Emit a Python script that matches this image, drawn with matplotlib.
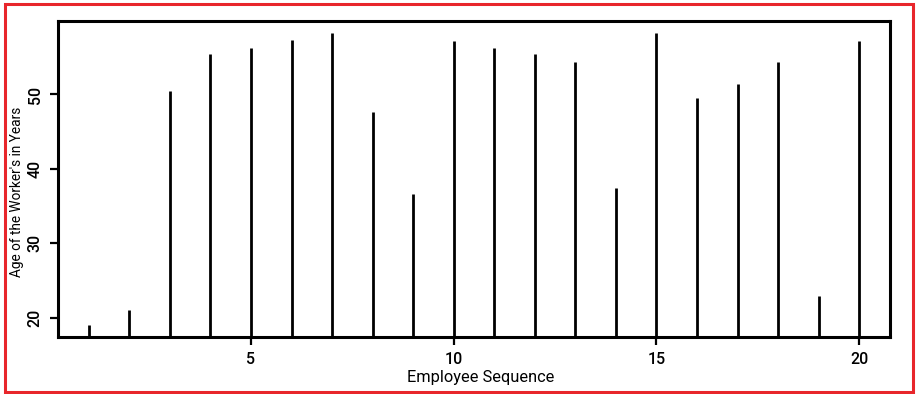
import matplotlib
matplotlib.use("Agg")
import matplotlib.pyplot as plt
from matplotlib.patches import Rectangle

plt.rcParams["font.family"] = ["Roboto", "Liberation Sans", "DejaVu Sans"]
plt.rcParams["font.weight"] = "medium"

# employee index and age in years
employee = list(range(1, 21))
age = [19.0, 21.0, 50.5, 55.4, 56.3, 57.3, 58.3, 47.6, 36.6, 57.2,
       56.3, 55.4, 54.3, 37.5, 58.3, 49.5, 51.4, 54.3, 23.0, 57.2]
x_ticks = [5, 10, 15, 20]
y_ticks = [20, 30, 40, 50]

fig = plt.figure(figsize=(9.16, 3.94), dpi=100)
ax = fig.add_axes([58 / 916, 1 - 337 / 394, 832 / 916, 316 / 394])

# R-style "type = h" spikes from the bottom of the plot region
ymin = min(age) - 0.04 * (max(age) - min(age))
ymax = max(age) + 0.04 * (max(age) - min(age))
ax.vlines(employee, ymin, age, color="black", linewidth=2.0)

ax.set_xlim(0.24, 20.76)
ax.set_ylim(ymin, ymax)
ax.set_xticks(x_ticks)
ax.set_yticks(y_ticks)
ax.set_yticklabels([str(v) for v in y_ticks], rotation=90, va="center")
ax.tick_params(axis="both", direction="out", length=6, width=1.6, labelsize=11.5, pad=5)
for side in ax.spines.values():
    side.set_linewidth(2.2)

ax.set_xlabel("Employee Sequence", fontsize=11.8)
ax.set_ylabel("Age of the Worker's in Years", fontsize=9.8)
ax.xaxis.set_label_coords(0.508, -0.103)
ax.yaxis.set_label_coords(-0.041, 0.46)

# red frame around the whole figure
fig.patches.append(Rectangle((5 / 916, 2 / 394), 908 / 916, 388 / 394,
                             transform=fig.transFigure, fill=False,
                             edgecolor="#e8262b", linewidth=2.2))

fig.savefig("out.png", dpi=100)
